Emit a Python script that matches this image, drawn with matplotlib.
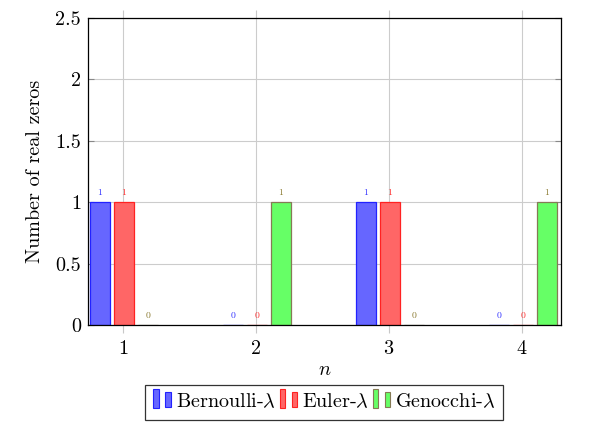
import matplotlib
matplotlib.use("Agg")
import matplotlib.pyplot as plt
import matplotlib.patches as mpatches
import numpy as np

# data
n_vals = [1, 2, 3, 4]
bernoulli = [1, 0, 1, 0]
euler = [1, 0, 1, 0]
genocchi = [0, 1, 0, 1]
series_names = [r"Bernoulli-$\lambda$", r"Euler-$\lambda$", r"Genocchi-$\lambda$"]

plt.rcParams["font.family"] = "cmr10"
plt.rcParams["mathtext.fontset"] = "cm"
plt.rcParams["axes.formatter.use_mathtext"] = True

fills = ["#6666ff", "#ff6666", "#66ff66"]
edges = ["#2222ff", "#ff2222", "#857a55"]
txtcols = ["#3333ff", "#ff3333", "#8a7a30"]
shifts = [-0.173, 0.008, 0.188]
width = 0.152
fs = 14.5


class TwoBarHandler:
    # pgfplots style ybar legend image: a tall bar and a short bar
    def legend_artist(self, legend, orig, fontsize, handlebox):
        x0, y0 = handlebox.xdescent, handlebox.ydescent
        w, h = handlebox.width, handlebox.height
        fc, ec = orig.get_facecolor(), orig.get_edgecolor()
        r1 = mpatches.Rectangle((x0, y0 - 0.1 * h), 0.27 * w, 1.25 * h,
                                fc=fc, ec=ec, lw=0.8, transform=handlebox.get_transform())
        r2 = mpatches.Rectangle((x0 + 0.62 * w, y0), 0.3 * w, 0.95 * h,
                                fc=fc, ec=ec, lw=0.8, transform=handlebox.get_transform())
        handlebox.add_artist(r1)
        handlebox.add_artist(r2)
        return r1


fig = plt.figure(figsize=(6.11, 4.36), dpi=100)
ax = fig.add_axes([0.144, 0.2546, 0.774, 0.7041])

x = np.array(n_vals, dtype=float)
handles = []
for i, vals in enumerate([bernoulli, euler, genocchi]):
    b = ax.bar(x + shifts[i], vals, width, color=fills[i], edgecolor=edges[i],
               linewidth=0.9, zorder=3, label=series_names[i])
    handles.append(mpatches.Patch(fc=fills[i], ec=edges[i]))
    for xi, v in zip(x + shifts[i], vals):
        ax.annotate(str(v), (xi, v), xytext=(0, 3.5), textcoords="offset points",
                    ha="center", va="bottom", fontsize=7, color=txtcols[i])

ax.set_xlim(0.737, 4.293)
ax.set_ylim(0, 2.5)
ax.set_xticks(n_vals)
ax.set_yticks([0, 0.5, 1, 1.5, 2, 2.5])
ax.set_yticklabels(["0", "0.5", "1", "1.5", "2", "2.5"])
ax.grid(True, color="#cccccc", linewidth=0.8, zorder=0)
ax.set_axisbelow(True)
ax.tick_params(axis="x", direction="out", top=True, length=6, color="#c8c8c8",
               labelsize=fs, pad=5)
ax.tick_params(axis="y", direction="in", right=True, length=4, color="#888888",
               labelsize=fs, pad=5)
for s in ax.spines.values():
    s.set_linewidth(0.9)
    s.set_zorder(4)

ax.set_xlabel(r"$n$", fontsize=fs, labelpad=2)
ax.set_ylabel("Number of real zeros", fontsize=fs, labelpad=8)

leg = ax.legend(handles, series_names, loc="upper center", bbox_to_anchor=(0.5, -0.195),
                ncol=3, fontsize=fs, frameon=True, fancybox=False, edgecolor="black",
                handler_map={mpatches.Patch: TwoBarHandler()},
                handlelength=0.95, handletextpad=0.15, columnspacing=0.2,
                borderpad=0.4, borderaxespad=0, handleheight=0.8)
leg.get_frame().set_linewidth(0.9)

fig.savefig("out.png", dpi=100)
